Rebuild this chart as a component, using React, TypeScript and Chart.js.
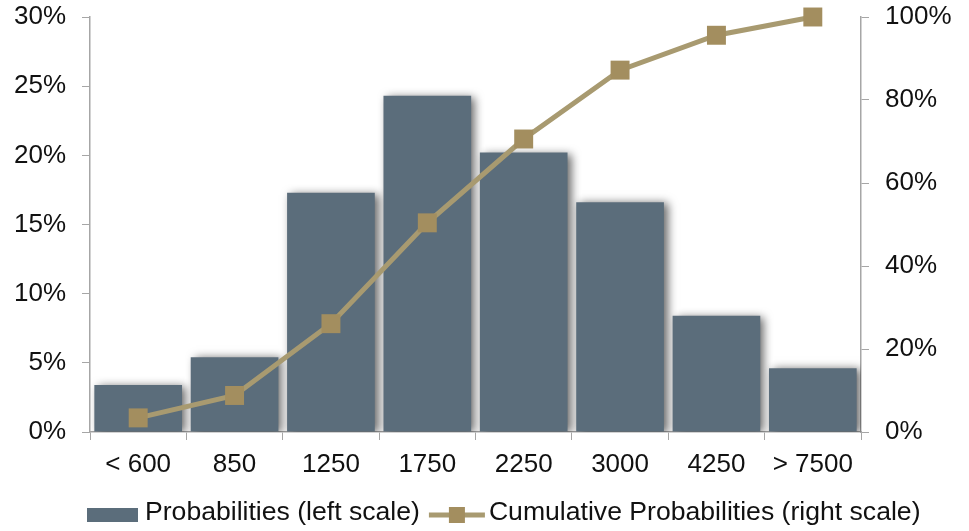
import React, { useEffect, useRef } from "react";
import { Chart, registerables } from "chart.js";

Chart.register(...registerables);

// Load buckets and their probabilities
const categories = ["< 600", "850", "1250", "1750", "2250", "3000", "4250", "> 7500"];
const probabilities = [3.4, 5.4, 17.3, 24.3, 20.2, 16.6, 8.4, 4.6]; // % (left scale)
const cumulative = [3.4, 8.8, 26.1, 50.4, 70.6, 87.2, 95.6, 100]; // % (right scale)
const leftTicks = [0, 5, 10, 15, 20, 25, 30];
const rightTicks = [0, 20, 40, 60, 80, 100];
const legendLabels = ["Probabilities (left scale)", "Cumulative Probabilities (right scale)"];

const BAR_COLOR = "#5b6d7b";
const LINE_COLOR = "#a89a70";
const MARKER_COLOR = "#a38e5f";
const AXIS_COLOR = "#a6a6a6";
const FONT_FAMILY = "'Liberation Sans', Arial, sans-serif";
const FONT_SIZE = 26;
const LEGEND_FONT_SIZE = 26.6;

// Soft drop shadow behind the bars only
const barShadow = {
  id: "barShadow",
  beforeDatasetDraw(chart: any, args: any) {
    if (args.index !== 0) return;
    const ctx = chart.ctx;
    ctx.save();
    ctx.shadowColor = "rgba(0,0,0,0.6)";
    ctx.shadowBlur = 9;
    ctx.shadowOffsetX = 4;
    ctx.shadowOffsetY = 1;
  },
  afterDatasetDraw(chart: any, args: any) {
    if (args.index !== 0) return;
    chart.ctx.restore();
  },
};

// Legend drawn under the axis: bar swatch and line-with-marker
const bottomLegend = {
  id: "bottomLegend",
  afterDraw(chart: any) {
    const ctx = chart.ctx;
    const left = chart.chartArea.left - 3;
    const cy = 515;
    ctx.save();
    ctx.font = `${LEGEND_FONT_SIZE}px ${FONT_FAMILY}`;
    ctx.textBaseline = "middle";

    // bar swatch
    ctx.fillStyle = BAR_COLOR;
    ctx.fillRect(left, cy - 7, 51, 14);
    ctx.fillStyle = "#111";
    let x = left + 58;
    ctx.fillText(legendLabels[0], x, cy - 2);
    x += ctx.measureText(legendLabels[0]).width + 9;

    // line swatch with square marker
    ctx.strokeStyle = LINE_COLOR;
    ctx.lineWidth = 5;
    ctx.beginPath();
    ctx.moveTo(x, cy);
    ctx.lineTo(x + 56, cy);
    ctx.stroke();
    ctx.fillStyle = MARKER_COLOR;
    ctx.fillRect(x + 28 - 8, cy - 8, 16, 16);
    x += 60;
    ctx.fillStyle = "#111";
    ctx.fillText(legendLabels[1], x, cy - 2);
    ctx.restore();
  },
};

// Fixed-width vertical axes without extra label overhang
const fixVertical = (width: number) => (s: any) => {
  s.width = width;
  s.paddingTop = 0;
  s.paddingBottom = 0;
};

export default function App() {
  const canvasRef = useRef<HTMLCanvasElement | null>(null);

  useEffect(() => {
    if (!canvasRef.current) return;
    const tickFont = { family: FONT_FAMILY, size: FONT_SIZE };
    const chart = new Chart(canvasRef.current, {
      type: "bar",
      data: {
        labels: categories,
        datasets: [
          {
            type: "bar",
            label: legendLabels[0],
            data: probabilities,
            backgroundColor: BAR_COLOR,
            borderWidth: 0,
            yAxisID: "y",
            barPercentage: 0.91,
            categoryPercentage: 1,
            order: 2,
          },
          {
            type: "line",
            label: legendLabels[1],
            data: cumulative,
            borderColor: LINE_COLOR,
            borderWidth: 5,
            pointStyle: "rect",
            pointRadius: 13.4,
            pointBackgroundColor: MARKER_COLOR,
            pointBorderColor: MARKER_COLOR,
            pointBorderWidth: 0,
            tension: 0,
            clip: false,
            yAxisID: "y1",
            order: 1,
          },
        ],
      },
      options: {
        responsive: false,
        animation: false,
        layout: { autoPadding: false, padding: { top: 17, left: 0, right: 0, bottom: 0 } },
        plugins: {
          legend: { display: false },
          tooltip: { enabled: false },
        },
        scales: {
          x: {
            offset: true,
            grid: {
              offset: true,
              drawOnChartArea: false,
              drawTicks: true,
              tickLength: 8,
              color: AXIS_COLOR,
            },
            border: { display: true, color: AXIS_COLOR, width: 1.5 },
            ticks: { font: tickFont, color: "#111", padding: 9, maxRotation: 0, autoSkip: false },
            afterFit: (s: any) => {
              s.height = 99;
              s.paddingLeft = 0;
              s.paddingRight = 0;
            },
          },
          y: {
            position: "left",
            min: 0,
            max: 30,
            afterBuildTicks: (s: any) => {
              s.ticks = leftTicks.map((v) => ({ value: v }));
            },
            grid: { drawOnChartArea: false, drawTicks: true, tickLength: 8, color: AXIS_COLOR },
            border: { display: true, color: AXIS_COLOR, width: 1.5 },
            ticks: {
              font: tickFont,
              color: "#111",
              padding: 16,
              callback: (v: any) => `${v}%`,
            },
            afterFit: fixVertical(90),
          },
          y1: {
            position: "right",
            min: 0,
            max: 100,
            afterBuildTicks: (s: any) => {
              s.ticks = rightTicks.map((v) => ({ value: v }));
            },
            grid: { drawOnChartArea: false, drawTicks: true, tickLength: 8, color: AXIS_COLOR },
            border: { display: true, color: AXIS_COLOR, width: 1.5 },
            ticks: {
              font: tickFont,
              color: "#111",
              padding: 16,
              callback: (v: any) => `${v}%`,
            },
            afterFit: fixVertical(108),
          },
        },
      },
      plugins: [barShadow, bottomLegend],
    });
    return () => chart.destroy();
  }, []);

  return (
    <div style={{ position: "fixed", left: 0, top: 0, width: 969, height: 531, background: "#fff" }}>
      <canvas ref={canvasRef} width={969} height={531} style={{ display: "block" }} />
    </div>
  );
}
